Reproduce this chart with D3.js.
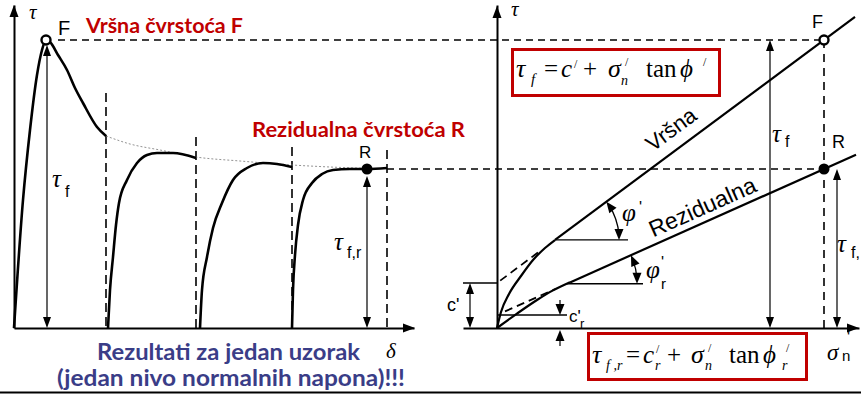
<!DOCTYPE html>
<html><head><meta charset="utf-8">
<script src="https://cdn.jsdelivr.net/npm/d3@7"></script>
<style>html,body{margin:0;padding:0;background:#fff;overflow:hidden}svg{display:block}</style>
</head><body>
<svg id="chart" width="861" height="394"></svg>
<script>
// ---------- Left panel: τ–δ record of one specimen ----------
// [δ, τ] pairs (arbitrary units)
const peakRun = [[0,0],[0.225,3.2],[0.4,4.95],[0.575,6.325],[0.7,6.95],[0.8,7.2],[0.9,7.15],[1.1,6.825],[1.325,6.45],[1.525,6.0],[1.725,5.625],[2.075,5.025],[2.3,4.8]];
const reload1 = [[2.35,0],[2.4,0.95],[2.475,1.775],[2.55,2.575],[2.625,3.125],[2.825,3.7],[3.075,4.125],[3.325,4.325],[3.575,4.375],[3.975,4.375],[4.55,4.25]];
const reload2 = [[4.65,0],[4.7,0.95],[4.825,1.775],[4.975,2.5],[5.2,3.125],[5.475,3.7],[5.825,4.0],[6.225,4.125],[6.575,4.1],[6.95,4.025]];
const reload3 = [[6.95,0],[6.975,0.95],[7.025,1.825],[7.1,2.575],[7.225,3.2],[7.45,3.625],[7.7,3.85],[7.975,3.95],[8.4,3.975],[8.825,3.975],[9.325,4.0]];
const residualTrend = [[2.3,4.8],[2.9,4.6],[3.65,4.45],[4.55,4.275],[5.65,4.175],[6.95,4.075],[7.9,4.025],[8.825,3.99]];
const reversalDelta = [2.3, 4.55, 6.95, 9.325];
const reversalTop = [5.875, 4.775, 4.525, 4.45];
const peakPoint = [0.8, 7.2];        // F
const residualPoint = [8.825, 3.975]; // R

// ---------- Right panel: strength envelopes ----------
const cPeak = 1.125;       // c'
const cResidual = 0.325;   // c'_r
const sigmaTest = 8.175;   // σ'n of the test
const tauPeak = 7.2;       // τ_f
const tauResidual = 3.975; // τ_f,r
const peakCurve = [[0,0],[0.1,0.4],[0.3,0.85],[0.6,1.3],[0.9,1.7],[1.2,2.0],[1.45,2.2]];
const residualCurve = [[0,0],[0.5,0.36],[1.0,0.7],[1.4,0.94],[1.825,1.145]];
const tanPeak = (tauPeak - cPeak) / sigmaTest;
const tanResidual = (tauResidual - cResidual) / sigmaTest;
const peakLine = s => cPeak + tanPeak * s;
const resLine = s => cResidual + tanResidual * s;

const SERIF = "Liberation Serif, DejaVu Serif, serif";
const SANS = "Liberation Sans, Arial, sans-serif";
const BOLD = "Lato, Open Sans, sans-serif";
const RED = "#c00000", BLUE = "#3a3d87";

const svg = d3.select("#chart");

const xL = d3.scaleLinear().domain([0, 10]).range([14, 414]);
const yL = d3.scaleLinear().domain([0, 8.075]).range([328, 5]);
const xR = d3.scaleLinear().domain([-0.85, 9.05]).range([463, 859]);
const yR = yL.copy();

function head(g, x, y, dx, dy, len = 11, wid = 8) {
  const n = Math.hypot(dx, dy), ux = dx / n, uy = dy / n;
  const bx = x - ux * len, by = y - uy * len, px = -uy * wid / 2, py = ux * wid / 2;
  g.append("path").attr("d", `M${x},${y}L${bx + px},${by + py}L${bx - px},${by - py}Z`).attr("fill", "#000");
}
function dimArrow(g, x, y1, y2, both = true) {
  g.append("line").attr("x1", x).attr("x2", x).attr("y1", y1 + 4).attr("y2", y2 - 4)
    .attr("stroke", "#000").attr("stroke-width", 1.2);
  head(g, x, y2, 0, 1, 11, 8);
  if (both) head(g, x, y1, 0, -1, 11, 8);
}
function txt(g, x, y, s, font, size, opts = {}) {
  const t = g.append("text").attr("x", x).attr("y", y).text(s)
    .style("font-family", font).style("font-size", size + "px")
    .style("font-style", opts.italic ? "italic" : "normal")
    .style("font-weight", opts.bold ? "bold" : "normal")
    .attr("fill", opts.fill || "#000")
    .attr("text-anchor", opts.anchor || "start");
  if (opts.width) t.attr("textLength", opts.width).attr("lengthAdjust", "spacingAndGlyphs");
  return t;
}

const lineL = d3.line().x(d => xL(d[0])).y(d => yL(d[1])).curve(d3.curveMonotoneX);
const lineR = d3.line().x(d => xR(d[0])).y(d => yR(d[1])).curve(d3.curveMonotoneX);

// ===== Left panel =====
const gl = svg.append("g");

// axes (no ticks)
const axX = gl.append("g").attr("transform", `translate(0,${yL(0)})`)
  .call(d3.axisBottom(xL).tickValues([]).tickSizeOuter(0));
const axY = gl.append("g").attr("transform", `translate(${xL(0)},0)`)
  .call(d3.axisLeft(yL).tickValues([]).tickSizeOuter(0));
[axX, axY].forEach(a => a.select(".domain").attr("stroke", "#000").attr("stroke-width", 2));
head(gl, xL(10) + 1, yL(0), 1, 0, 12, 9);
head(gl, xL(0), yL.range()[1], 0, -1, 12, 9);

// F and R reference lines (continue across to right panel)
svg.append("line").attr("x1", xL(peakPoint[0]) + 12).attr("x2", xR(sigmaTest))
  .attr("y1", yL(tauPeak)).attr("y2", yL(tauPeak))
  .attr("stroke", "#000").attr("stroke-width", 1.4).attr("stroke-dasharray", "7,5");
svg.append("line").attr("x1", xL(reversalDelta[3])).attr("x2", xR(sigmaTest))
  .attr("y1", yL(tauResidual)).attr("y2", yL(tauResidual))
  .attr("stroke", "#000").attr("stroke-width", 1.4).attr("stroke-dasharray", "7,5");

// reversal markers
reversalDelta.forEach((d, i) => {
  gl.append("line").attr("x1", xL(d)).attr("x2", xL(d)).attr("y1", yL(reversalTop[i])).attr("y2", yL(0))
    .attr("stroke", "#000").attr("stroke-width", 1.6).attr("stroke-dasharray", "9,5");
});

// residual trend (thin dotted)
gl.append("path").attr("d", lineL(residualTrend)).attr("fill", "none")
  .attr("stroke", "#777").attr("stroke-width", 0.8).attr("stroke-dasharray", "2,2");

// test curves
[peakRun, reload1, reload2, reload3].forEach(c => {
  gl.append("path").attr("d", lineL(c)).attr("fill", "none")
    .attr("stroke", "#000").attr("stroke-width", 2.6).attr("stroke-linejoin", "round");
});

// dimension arrows τf and τf,r
dimArrow(gl, xL(peakPoint[0]) + 1, yL(peakPoint[1]) + 5, yL(0));
dimArrow(gl, xL(residualPoint[0]), yL(residualPoint[1]) + 7, yL(0));

// points
gl.append("circle").attr("cx", xL(peakPoint[0])).attr("cy", yL(peakPoint[1])).attr("r", 4.5)
  .attr("fill", "#fff").attr("stroke", "#000").attr("stroke-width", 2.4);
gl.append("circle").attr("cx", xL(residualPoint[0])).attr("cy", yL(residualPoint[1])).attr("r", 5.5).attr("fill", "#000");

// labels
txt(gl, 29, 19, "τ", SERIF, 21, { italic: true });
txt(gl, 58, 35, "F", SANS, 20);
txt(gl, 86, 33, "Vršna čvrstoća F", BOLD, 21, { bold: true, fill: RED, width: 157 });
txt(gl, 252, 137, "Rezidualna čvrstoća R", BOLD, 21, { bold: true, fill: RED, width: 213 });
txt(gl, 359, 158, "R", SANS, 17);
txt(gl, 52, 187, "τ", SERIF, 25, { italic: true });
txt(gl, 65, 197, "f", SANS, 16);
txt(gl, 334, 250, "τ", SERIF, 25, { italic: true });
txt(gl, 347, 258, "f,r", SANS, 16);
txt(gl, 386, 358, "δ", SERIF, 21, { italic: true });
txt(gl, 97, 360, "Rezultati za jedan uzorak", BOLD, 23, { bold: true, fill: BLUE, width: 263 });
txt(gl, 57, 386, "(jedan nivo normalnih napona)!!!", BOLD, 23, { bold: true, fill: BLUE, width: 348 });

// ===== Right panel =====
const gr = svg.append("g");
const axXR = gr.append("g").attr("transform", `translate(0,${yR(0)})`)
  .call(d3.axisBottom(xR).tickValues([]).tickSizeOuter(0));
const axYR = gr.append("g").attr("transform", `translate(${xR(0)},0)`)
  .call(d3.axisLeft(yR).tickValues([]).tickSizeOuter(0));
[axXR, axYR].forEach(a => a.select(".domain").attr("stroke", "#000").attr("stroke-width", 2));
head(gr, xR.range()[1], yR(0), 1, 0, 12, 9);
head(gr, xR(0), yR.range()[1] + 1, 0, -1, 12, 9);

// projection of F down to the σ axis
gr.append("line").attr("x1", xR(sigmaTest)).attr("x2", xR(sigmaTest)).attr("y1", yR(tauPeak)).attr("y2", yR(0))
  .attr("stroke", "#000").attr("stroke-width", 1.6).attr("stroke-dasharray", "8,6");

// dashed straight-line extensions to the τ axis
gr.append("line").attr("x1", xR(0.08)).attr("x2", xR(1.1)).attr("y1", yR(peakLine(0.08))).attr("y2", yR(peakLine(1.1)))
  .attr("stroke", "#000").attr("stroke-width", 1.8).attr("stroke-dasharray", "8,5");
gr.append("line").attr("x1", xR(0.2)).attr("x2", xR(1.45)).attr("y1", yR(resLine(0.2))).attr("y2", yR(resLine(1.45)))
  .attr("stroke", "#000").attr("stroke-width", 1.8).attr("stroke-dasharray", "8,5");

// curved parts near origin
gr.append("path").attr("d", lineR(peakCurve)).attr("fill", "none").attr("stroke", "#000").attr("stroke-width", 2.2);
gr.append("path").attr("d", lineR(residualCurve)).attr("fill", "none").attr("stroke", "#000").attr("stroke-width", 2.2);

// straight envelopes
const sP0 = peakCurve[peakCurve.length - 1][0], sR0 = residualCurve[residualCurve.length - 1][0];
gr.append("line").attr("x1", xR(sP0)).attr("x2", xR(8.95)).attr("y1", yR(peakLine(sP0))).attr("y2", yR(peakLine(8.95)))
  .attr("stroke", "#000").attr("stroke-width", 2.2);
gr.append("line").attr("x1", xR(sR0)).attr("x2", xR(8.975)).attr("y1", yR(resLine(sR0))).attr("y2", yR(resLine(8.975)))
  .attr("stroke", "#000").attr("stroke-width", 2.2);

// friction-angle construction lines and arcs
function angleMark(s0, tau0, sEnd, tanA, rUnits) {
  const cx = xR(s0), cy = yR(tau0);
  gr.append("line").attr("x1", cx).attr("x2", xR(sEnd)).attr("y1", cy).attr("y2", cy)
    .attr("stroke", "#000").attr("stroke-width", 1.3);
  const r = xR(s0 + rUnits) - cx, a = Math.atan(tanA);
  const ex = cx + r * Math.cos(a), ey = cy - r * Math.sin(a);
  gr.append("path").attr("d", `M${cx + r},${cy - 5}A${r},${r} 0 0 0 ${ex + 4 * Math.sin(a)},${ey + 4 * Math.cos(a)}`)
    .attr("fill", "none").attr("stroke", "#000").attr("stroke-width", 1.3);
  head(gr, cx + r, cy, 0, 1, 11, 9);
  head(gr, ex, ey, -Math.sin(a), -Math.cos(a), 11, 9);
}
angleMark(sP0, peakLine(sP0), 3.275, tanPeak, 1.6);
angleMark(1.75, resLine(1.75), 3.65, tanResidual, 1.75);

// cohesion marks
gr.append("line").attr("x1", xR(-0.85)).attr("x2", xR(0)).attr("y1", yR(cPeak)).attr("y2", yR(cPeak))
  .attr("stroke", "#000").attr("stroke-width", 1.3);
dimArrow(gr, xR(-0.675), yR(cPeak), yR(0));
gr.append("line").attr("x1", xR(0)).attr("x2", xR(1.75)).attr("y1", yR(cResidual)).attr("y2", yR(cResidual))
  .attr("stroke", "#000").attr("stroke-width", 1.3);
gr.append("line").attr("x1", xR(1.575)).attr("x2", xR(1.575)).attr("y1", yR(0.7)).attr("y2", yR(cResidual) - 6)
  .attr("stroke", "#000").attr("stroke-width", 1.2);
head(gr, xR(1.575), yR(cResidual), 0, 1, 11, 9);
gr.append("line").attr("x1", xR(1.575)).attr("x2", xR(1.575)).attr("y1", yR(-0.45)).attr("y2", yR(0) + 6)
  .attr("stroke", "#000").attr("stroke-width", 1.2);
head(gr, xR(1.575), yR(0) + 2, 0, -1, 11, 9);

// τf and τf,r dimension arrows
dimArrow(gr, xR(6.825), yR(tauPeak), yR(0));
dimArrow(gr, xR(8.5), yR(tauResidual), yR(0));

// F and R points
gr.append("circle").attr("cx", xR(sigmaTest)).attr("cy", yR(tauPeak)).attr("r", 4.5)
  .attr("fill", "#fff").attr("stroke", "#000").attr("stroke-width", 2.4);
gr.append("circle").attr("cx", xR(sigmaTest)).attr("cy", yR(tauResidual)).attr("r", 5.5).attr("fill", "#000");

// envelope names along the lines
function alongLine(s, f, d, label, size) {
  const a = Math.atan(f(1) - f(0)) * 180 / Math.PI;
  const x0 = xR(s), y0 = yR(f(s));
  gr.append("text").attr("transform", `translate(${x0},${y0}) rotate(${-a}) translate(0,${-d})`)
    .style("font-family", SANS).style("font-size", size + "px").text(label);
}
alongLine(4.075, peakLine, 12, "Vršna", 22);
alongLine(3.975, resLine, 7, "Rezidualna", 23);

// right panel labels
txt(gr, 511, 16, "τ", SERIF, 21, { italic: true });
txt(gr, 812, 28, "F", SANS, 18);
txt(gr, 832, 148, "R", SANS, 18);
txt(gr, 772, 142, "τ", SERIF, 25, { italic: true });
txt(gr, 785, 147, "f", SANS, 16);
txt(gr, 837, 252, "τ", SERIF, 25, { italic: true });
txt(gr, 851, 258, "f,", SANS, 16);
txt(gr, 447, 311, "c'", SANS, 18);
txt(gr, 569, 322, "c'", SANS, 17);
txt(gr, 580, 328, "r", SANS, 13);
txt(gr, 622, 221, "φ", SERIF, 25, { italic: true });
txt(gr, 639, 213, "'", SANS, 16);
txt(gr, 646, 278, "φ", SERIF, 25, { italic: true });
txt(gr, 661, 268, "'", SANS, 16);
txt(gr, 661, 289, "r", SANS, 15);
txt(gr, 827, 360, "σ", SERIF, 23, { italic: true });
txt(gr, 842, 361, "n", SANS, 15);
txt(gr, 847, 343, "'", SANS, 16);

// formula boxes
function box(x1, y1, x2, y2) {
  gr.append("rect").attr("x", x1 + 1.5).attr("y", y1 + 1.5).attr("width", x2 - x1 - 3).attr("height", y2 - y1 - 3)
    .attr("fill", "#fff").attr("stroke", RED).attr("stroke-width", 3);
}
box(511, 48, 721, 97);
const F = 25;
txt(gr, 516, 77, "τ", SERIF, F + 1, { italic: true });
txt(gr, 531, 84, "f", SERIF, 15, { italic: true });
txt(gr, 544, 77, "=", SERIF, F);
txt(gr, 561, 77, "c", SERIF, F, { italic: true });
txt(gr, 574, 68, "/", SERIF, 12);
txt(gr, 583, 77, "+", SERIF, F);
txt(gr, 608, 77, "σ", SERIF, F + 1, { italic: true });
txt(gr, 625, 66, "/", SERIF, 12);
txt(gr, 621, 85, "n", SERIF, 14, { italic: true });
txt(gr, 646, 77, "tan", SERIF, F);
txt(gr, 680, 77, "ϕ", SERIF, F, { italic: true });
txt(gr, 703, 66, "/", SERIF, 12);

box(587, 332, 808, 381);
const y2 = 363;
txt(gr, 592, y2, "τ", SERIF, F + 1, { italic: true });
txt(gr, 606, y2 + 7, "f ,r", SERIF, 14, { italic: true });
txt(gr, 626, y2, "=", SERIF, F);
txt(gr, 643, y2, "c", SERIF, F, { italic: true });
txt(gr, 656, y2 - 10, "/", SERIF, 12);
txt(gr, 655, y2 + 7, "r", SERIF, 14, { italic: true });
txt(gr, 667, y2, "+", SERIF, F);
txt(gr, 691, y2, "σ", SERIF, F + 1, { italic: true });
txt(gr, 708, y2 - 11, "/", SERIF, 12);
txt(gr, 705, y2 + 7, "n", SERIF, 14, { italic: true });
txt(gr, 729, y2, "tan", SERIF, F);
txt(gr, 763, y2, "ϕ", SERIF, F, { italic: true });
txt(gr, 786, y2 - 11, "/", SERIF, 12);
txt(gr, 782, y2 + 7, "r", SERIF, 14, { italic: true });

// bottom rule
svg.append("line").attr("x1", 0).attr("x2", 861).attr("y1", 392.5).attr("y2", 392.5)
  .attr("stroke", "#000").attr("stroke-width", 2);
</script>
</body></html>
